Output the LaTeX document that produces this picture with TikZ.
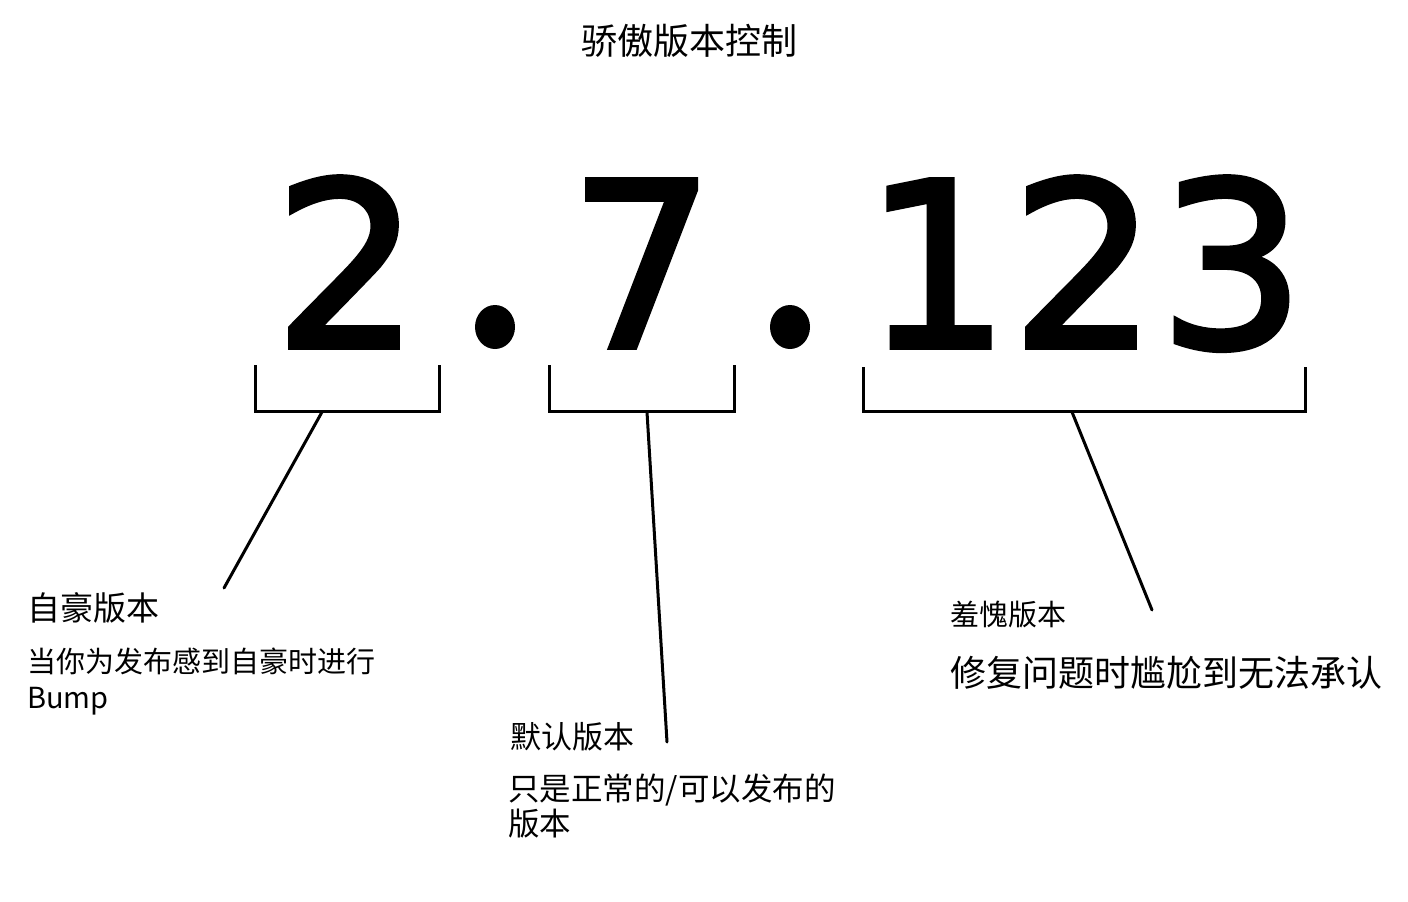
\documentclass[tikz,border=0pt]{standalone}
\usepackage{fontspec}
\setmainfont{Noto Sans CJK SC}
\newfontfamily\digitfont[FakeBold=2.5]{DejaVu Sans}

\begin{document}
\begin{tikzpicture}[x=1pt,y=-1pt,
  bignum/.style={font=\digitfont\fontsize{229}{229}\selectfont, anchor=base, inner sep=0pt},
  bracket/.style={line width=3pt},
  leader/.style={line width=3pt, line cap=round},
  label/.style={anchor=base west, inner sep=0pt, align=left}]
  \useasboundingbox[fill=white] (0,0) rectangle (1408,902);

  % title
  \node[anchor=base, inner sep=0pt, font=\fontsize{36}{36}\selectfont] (title) at (689,54) {骄傲版本控制};

  % version number
  \node[bignum] (major) at (347,347) {2};
  \node[bignum] (minor) at (642,347) {7};
  \node[bignum] (patch1) at (937,347) {1};
  \node[bignum] (patch2) at (1084,347) {2};
  \node[bignum] (patch3) at (1232,347) {3};
  \fill (495,327) ellipse (20 and 22);
  \fill (790,327) ellipse (20 and 22);

  % brackets
  \draw[bracket] (255,365) |- (439,411) -- (439,365);
  \draw[bracket] (549,365) |- (734,411) -- (734,365);
  \draw[bracket] (863,367) |- (1305,411) -- (1305,367);
  \coordinate (majorfoot) at (322,412);
  \coordinate (minorfoot) at (647,412);
  \coordinate (patchfoot) at (1072,412);

  % labels (base = baseline of the last line)
  \node[label, font=\fontsize{33}{33}\selectfont] (majorname) at (27,620) {自豪版本};
  \node[label, font=\fontsize{29}{36}\selectfont] (majortext) at (27,708) {当你为发布感到自豪时进行\\Bump};
  \node[label, font=\fontsize{31}{31}\selectfont] (minorname) at (510,748) {默认版本};
  \node[label, font=\fontsize{31.5}{35}\selectfont] (minortext) at (508,835) {只是正常的/可以发布的\\版本};
  \node[label, font=\fontsize{29}{29}\selectfont] (patchname) at (950,625) {羞愧版本};
  \node[label, font=\fontsize{36}{36}\selectfont] (patchtext) at (950,686) {修复问题时尴尬到无法承认};

  % leaders
  \coordinate (majorend) at (224,588);
  \coordinate (minorend) at (667,742);
  \coordinate (patchend) at (1152,610);
  \draw[leader] (majorfoot) -- (majorend);
  \draw[leader] (minorfoot) -- (minorend);
  \draw[leader] (patchfoot) -- (patchend);
\end{tikzpicture}
\end{document}
